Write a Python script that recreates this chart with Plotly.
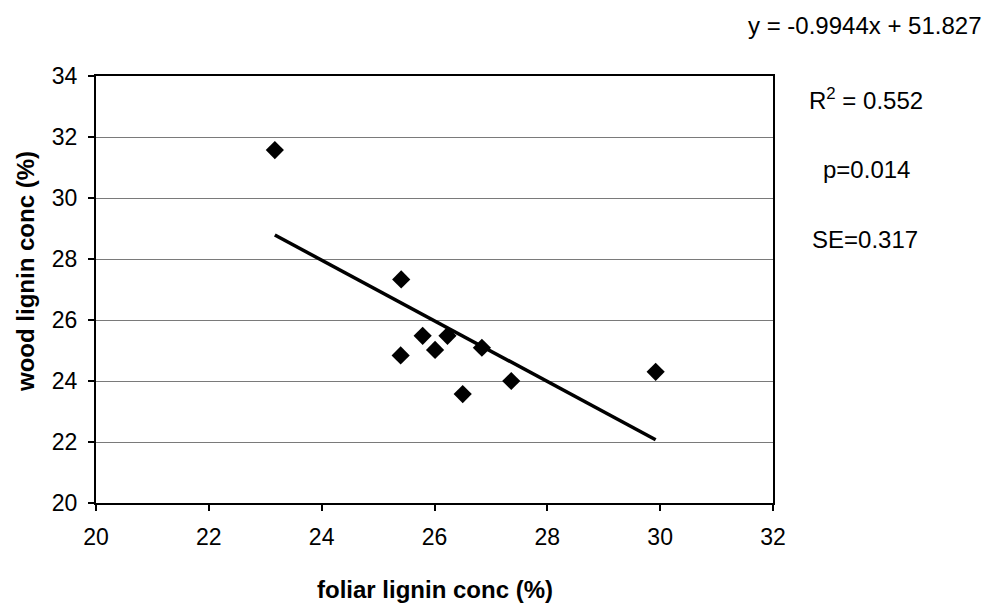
import plotly.graph_objects as go

foliar_lignin = [23.17, 25.41, 25.79, 26.23, 25.40, 26.01, 26.84, 26.50, 27.36, 29.92]
wood_lignin = [31.57, 27.33, 25.48, 25.48, 24.84, 25.02, 25.09, 23.57, 24.00, 24.30]

slope = -0.9944
intercept = 51.827
trend_x = [min(foliar_lignin), max(foliar_lignin)]
trend_y = [slope * v + intercept for v in trend_x]

x_ticks = [20, 22, 24, 26, 28, 30, 32]
y_ticks = [20, 22, 24, 26, 28, 30, 32, 34]

x_title = "foliar lignin conc (%)"
y_title = "wood lignin conc (%)"
stats_text = ["y = -0.9944x + 51.827", "R<sup>2</sup> = 0.552", "p=0.014", "SE=0.317"]

FONT = "Liberation Sans, Arial, sans-serif"
L, R, T, B, W, H = 96, 226, 76, 102, 999, 605
PW, PH = W - L - R, H - T - B


def px_to_paper(px, py):
    return (px - L) / PW, 1 - (py - T) / PH


fig = go.Figure()
fig.add_trace(go.Scatter(x=trend_x, y=trend_y, mode="lines",
                         line=dict(color="black", width=3.5), showlegend=False))
fig.add_trace(go.Scatter(x=foliar_lignin, y=wood_lignin, mode="markers",
                         marker=dict(symbol="diamond", size=14, color="black"),
                         showlegend=False))

fig.update_layout(
    width=W, height=H,
    margin=dict(l=L, r=R, t=T, b=B),
    paper_bgcolor="white", plot_bgcolor="white",
    font=dict(family=FONT, size=24, color="black"),
    xaxis=dict(range=[20, 32], tickmode="array", tickvals=x_ticks,
               ticktext=[str(v) for v in x_ticks],
               showgrid=False, zeroline=False,
               showline=True, linecolor="black", linewidth=2, mirror=True,
               ticks="outside", ticklen=6, tickcolor="black", tickwidth=1.5,
               ticklabelstandoff=6,
               tickfont_size=23, automargin=False),
    yaxis=dict(range=[20, 34], tickmode="array", tickvals=y_ticks,
               ticktext=[str(v) for v in y_ticks],
               showgrid=True, gridcolor="#7a7a7a", gridwidth=1,
               zeroline=False, showline=True, linecolor="black", linewidth=2, mirror=True,
               ticks="outside", ticklen=6, tickcolor="black", tickwidth=1.5,
               ticklabelstandoff=6,
               tickfont_size=23, automargin=False),
)

xt_x, xt_y = px_to_paper(435, 589)
fig.add_annotation(text="<b>" + x_title + "</b>", xref="paper", yref="paper", x=xt_x, y=xt_y,
                   xanchor="center", yanchor="middle", showarrow=False,
                   font=dict(size=24, family=FONT))
yt_x, yt_y = px_to_paper(25, 272)
fig.add_annotation(text="<b>" + y_title + "</b>", xref="paper", yref="paper", x=yt_x, y=yt_y,
                   xanchor="center", yanchor="middle", showarrow=False, textangle=-90,
                   font=dict(size=24, family=FONT))

ann_pos = [(865, 25), (866, 99), (866, 169), (865, 239)]
for txt, (px, py) in zip(stats_text, ann_pos):
    ax, ay = px_to_paper(px, py)
    fig.add_annotation(text=txt, xref="paper", yref="paper", x=ax, y=ay,
                       xanchor="center", yanchor="middle", showarrow=False,
                       font=dict(size=24, family=FONT))

fig.write_html("out.html")
